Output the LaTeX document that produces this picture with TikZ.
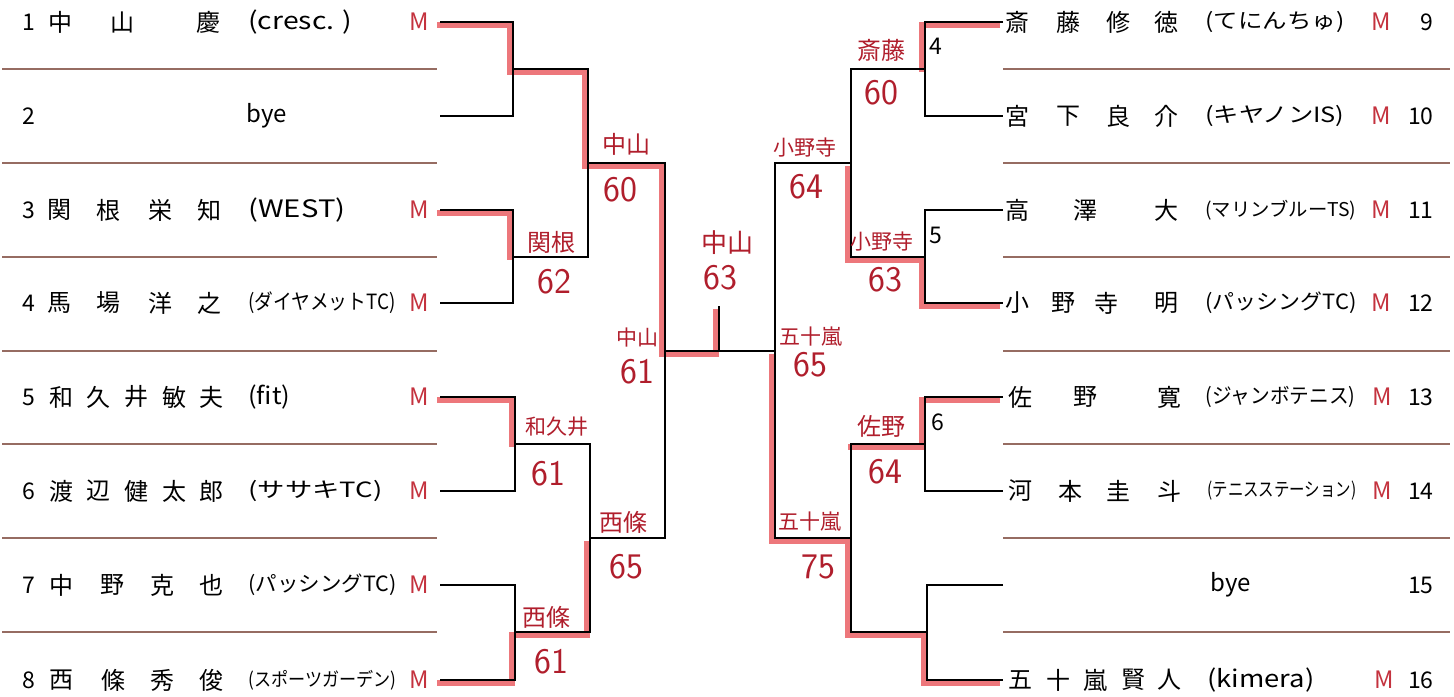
\documentclass[tikz,border=0pt]{standalone}
\usepackage{graphicx}
\usepackage{fontspec}
\setmainfont{Noto Sans CJK JP}
\definecolor{pen}{RGB}{176,30,44}
\definecolor{marker}{RGB}{234,96,100}
\definecolor{rule}{RGB}{150,108,98}
\definecolor{mred}{RGB}{196,50,62}
\newcommand{\team}[2]{\resizebox{#1}{\height}{#2}}

\begin{document}
\begin{tikzpicture}[x=0.5pt, y=-0.5pt,
    bline/.style={line width=1.1pt, black},
    winner/.style={line width=2.6pt, marker, opacity=0.85},
    sepline/.style={line width=1.1pt, rule},
    kanji/.style={font=\fontsize{12}{12}\selectfont, inner sep=0pt},
    club/.style={font=\fontsize{10.5}{10.5}\selectfont, anchor=west, inner sep=0pt},
    clublatin/.style={club, font=\fontsize{12}{12}\selectfont},
    clubsmall/.style={club, font=\fontsize{9.5}{9.5}\selectfont},
    seed/.style={font=\fontsize{11.5}{11.5}\selectfont, inner sep=0pt},
    mtag/.style={mred, font=\fontsize{12}{12}\selectfont, inner sep=0pt},
    hand/.style={pen, font=\fontsize{12}{12}\selectfont, inner sep=0pt},
    handsmall/.style={hand, font=\fontsize{10.5}{10.5}\selectfont},
    score/.style={pen, font=\sffamily\fontsize{18}{18}\selectfont, inner sep=0pt}]

    \fill[white] (0,0) rectangle (1454,696);
    \useasboundingbox (0,0) rectangle (1454,696);

    % ruled rows
    \foreach \y in {69,163,257,351,444,538,632} {
        \draw[sepline] (2,\y) -- (437,\y);
        \draw[sepline] (1003,\y) -- (1450,\y);
    }

    % left half
    \foreach \n/\y/\chars in {1/22/{中/60,山/122,慶/208},
                              3/210/{関/59,根/108,栄/160,知/209},
                              4/303/{馬/59,場/108,洋/160,之/209},
                              5/397/{和/61,久/98,井/136,敏/174,夫/211},
                              6/491/{渡/61,辺/98,健/136,太/174,郎/211},
                              7/585/{中/61,野/112,克/162,也/211},
                              8/680/{西/61,條/113,秀/162,俊/211}}
        \foreach \c/\x in \chars
            \node[kanji] (k\n-\x) at (\x,\y) {\c};

    \foreach \n/\y in {1/22,2/116,3/210,4/303,5/397,6/491,7/585,8/680}
        \node[seed, anchor=west] (sl\n) at (22,\y) {\n};
    \foreach \n/\y in {1/22,3/210,4/303,5/397,6/491,7/585,8/680}
        \node[mtag] (ml\n) at (419,\y) {M};

    \node[clublatin] (tl1) at (248,22) {\team{52pt}{(cresc. )}};
    \node[clublatin] (tl2) at (246,116) {bye};
    \node[clublatin] (tl3) at (248,210) {\team{48.5pt}{(WEST)}};
    \node[club] (tl4) at (248,303) {\team{73.5pt}{(ダイヤメットTC)}};
    \node[clublatin] (tl5) at (248,397) {\team{21pt}{(fit)}};
    \node[club] (tl6) at (248,491) {\team{67pt}{(ササキTC)}};
    \node[club] (tl7) at (248,585) {\team{74pt}{(パッシングTC)}};
    \node[clubsmall] (tl8) at (248,680) {\team{74pt}{(スポーツガーデン)}};

    % right half
    \foreach \n/\y/\chars in {9/22/{斎/1017,藤/1068,修/1118,徳/1166},
                              10/116/{宮/1017,下/1068,良/1118,介/1166},
                              11/210/{高/1017,澤/1085,大/1166},
                              12/303/{小/1017,野/1063,寺/1106,明/1166},
                              13/397/{佐/1020,野/1085,寛/1169},
                              14/491/{河/1020,本/1070,圭/1118,斗/1169},
                              16/680/{五/1020,十/1058,嵐/1095,賢/1133,人/1169}}
        \foreach \c/\x in \chars
            \node[kanji] (k\n-\x) at (\x,\y) {\c};

    \foreach \n/\y in {9/22,10/116,11/210,12/303,13/397,14/491,15/585,16/680}
        \node[seed, anchor=east] (sr\n) at (1434,\y) {\n};
    \foreach \n/\y/\x in {9/22/1381,10/116/1381,11/210/1381,12/303/1381,13/397/1382,14/491/1382,16/680/1384}
        \node[mtag] (mr\n) at (\x,\y) {M};

    \node[club] (tr9) at (1205,22) {\team{69.5pt}{(てにんちゅ)}};
    \node[club] (tr10) at (1205,116) {\team{69.5pt}{(キヤノンIS)}};
    \node[clubsmall] (tr11) at (1205,210) {\team{75.5pt}{(マリンブルーTS)}};
    \node[club] (tr12) at (1205,303) {\team{75.5pt}{(パッシングTC)}};
    \node[club] (tr13) at (1205,397) {\team{75pt}{(ジャンボテニス)}};
    \node[clubsmall] (tr14) at (1207,491) {\team{74.5pt}{(テニスステーション)}};
    \node[clublatin] (tr15) at (1210,585) {bye};
    \node[clublatin] (tr16) at (1207,680) {\team{53.5pt}{(kimera)}};

    % bracket points
    \foreach \i/\y in {1/22,2/116,3/210,4/303,5/397,6/491,7/585,8/680} {
        \coordinate (e\i) at (440,\y);
        \coordinate (f\i) at (1003,\y);
    }
    \coordinate (a1) at (513,69);  \coordinate (a2) at (513,257);
    \coordinate (a3) at (515,444); \coordinate (a4) at (515,632);
    \coordinate (b1) at (588,163); \coordinate (b2) at (590,538);
    \coordinate (c1) at (665,351);
    \coordinate (g1) at (925,69);  \coordinate (g2) at (925,257);
    \coordinate (g3) at (925,444); \coordinate (g4) at (927,632);
    \coordinate (h1) at (851,163); \coordinate (h2) at (851,538);
    \coordinate (d1) at (775,351);
    \coordinate (fin) at (719,351);
    \coordinate (champ) at (719,306);

    % winners, marked by hand
    \begin{scope}[transform canvas={xshift=-1.5pt, yshift=-1.5pt}]
        \draw[winner] (e1) -| (a1) -| (b1) -| (c1) -- (fin) -- (champ);
        \draw[winner] (e3) -| (a2);
        \draw[winner] (e5) -| (a3);
        \draw[winner] (e8) -| (a4) -| (b2);
        \draw[winner] (f1) -| (g1);
        \draw[winner] (f4) -| (g2) -| (h1);
        \draw[winner] (f5) -| (g3) -- (g3 -| h2);
        \draw[winner] (f8) -| (g4) -| (h2) -| (d1);
    \end{scope}

    \foreach \i/\j/\k in {1/2/a1,3/4/a2,5/6/a3,7/8/a4} {
        \draw[bline] (e\i) -| (\k) |- (e\j);
    }
    \foreach \i/\j/\k in {1/2/g1,3/4/g2,5/6/g3,7/8/g4} {
        \draw[bline] (f\i) -| (\k) |- (f\j);
    }
    \foreach \p/\q in {a1/b1,a2/b1,a3/b2,a4/b2,b1/c1,b2/c1,g1/h1,g2/h1,g3/h2,g4/h2,h1/d1,h2/d1}
        \draw[bline] (\p) -| (\q);
    \draw[bline] (c1) -- (d1);
    \draw[bline] (fin) -- (champ);

    \node[seed] (no4) at (936,46) {4};
    \node[seed] (no5) at (936,235) {5};
    \node[seed] (no6) at (938,422) {6};

    % handwritten results
    \node[hand] (wa1) at (626,144) {中山};
    \node[score] (sa1) at (620,190) {60};
    \node[hand] (wa2) at (551,242) {関根};
    \node[score] (sa2) at (554,282) {62};
    \node[handsmall] (wc1) at (637,338) {中山};
    \node[score] (sc1) at (637,372) {61};
    \node[handsmall] (wa3) at (557,427) {和久井};
    \node[score] (sa3) at (548,474) {61};
    \node[hand] (wb2) at (623,522) {西條};
    \node[score] (sb2) at (626,567) {65};
    \node[hand] (wa4) at (546,617) {西條};
    \node[score] (sa4) at (551,662) {61};

    \node[hand, font=\fontsize{13}{13}\selectfont] (wfin) at (727,243) {中山};
    \node[score] (sfin) at (720,278) {63};

    \node[hand] (wg1) at (881,50) {斎藤};
    \node[score] (sg1) at (881,93) {60};
    \node[handsmall] (wh1) at (805,148) {小野寺};
    \node[score] (sh1) at (806,187) {64};
    \node[handsmall] (wg2) at (882,242) {小野寺};
    \node[score] (sg2) at (885,280) {63};
    \node[handsmall] (wd1) at (811,337) {五十嵐};
    \node[score] (sd1) at (810,365) {65};
    \node[hand] (wg3) at (881,426) {佐野};
    \node[score] (sg3) at (885,472) {64};
    \node[handsmall] (wh2) at (810,522) {五十嵐};
    \node[score] (sh2) at (818,567) {75};
\end{tikzpicture}
\end{document}
